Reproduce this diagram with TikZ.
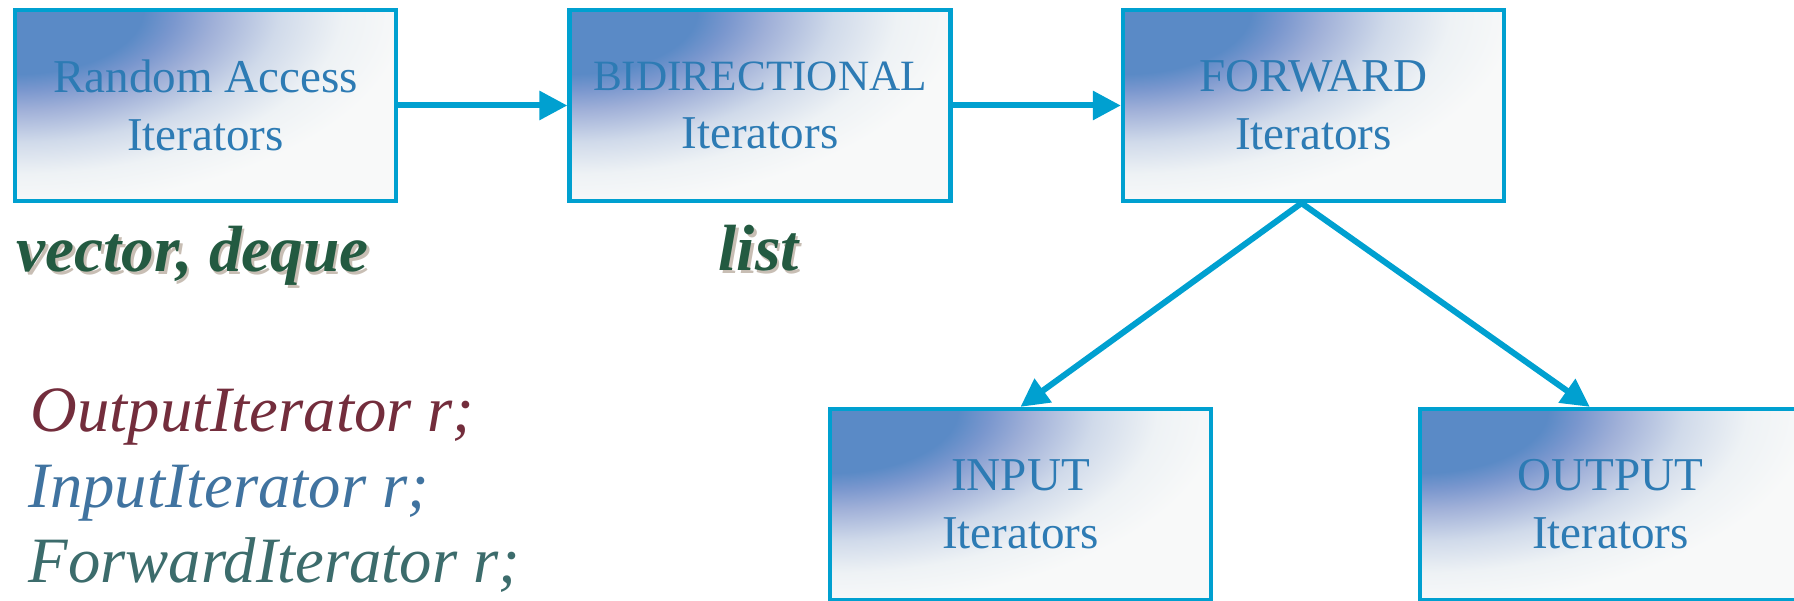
\documentclass[tikz,border=0pt]{standalone}
\usepackage{fontspec}
\setmainfont{Liberation Serif}
\usetikzlibrary{arrows.meta, % For the triangle tips
                positioning,
               }

\definecolor{boxcyan}{RGB}{0,160,208}
\definecolor{boxtext}{RGB}{45,123,180}
\definecolor{glowblue}{RGB}{90,138,198}
\definecolor{glowmid}{RGB}{122,151,206}
\definecolor{glowlav}{RGB}{160,176,216}
\definecolor{glowlight}{RGB}{208,218,234}
\definecolor{glowpale}{RGB}{238,242,245}
\definecolor{glowwhite}{RGB}{248,249,249}
\definecolor{kindgreen}{RGB}{35,90,65}
\definecolor{shadowtan}{RGB}{200,190,180}
\definecolor{outred}{RGB}{115,45,60}
\definecolor{inblue}{RGB}{64,115,160}
\definecolor{fwdteal}{RGB}{60,108,108}

% the inner 25bp of a shading are stretched onto the path
\pgfdeclareradialshading{boxglow}{\pgfpoint{0bp}{0bp}}{%
  color(0bp)=(glowblue); color(8bp)=(glowblue); color(10bp)=(glowmid);
  color(12.5bp)=(glowlav); color(16.5bp)=(glowlight); color(20.5bp)=(glowpale);
  color(24.5bp)=(glowwhite); color(50bp)=(glowwhite)}

\newcommand\boxfont{\fontsize{13.4pt}{16.5pt}\selectfont}
\newcommand\kindfont{\fontsize{18.6pt}{20pt}\selectfont\bfseries\itshape}
\newcommand\declfont{\fontsize{18.4pt}{21pt}\selectfont\itshape}
\newcommand\shadowed[1]{\rlap{\kern0.25mm\raisebox{-0.25mm}{\textcolor{shadowtan}{#1}}}#1}

\tikzstyle{iterbox} = [rectangle, draw=boxcyan, line width=0.43mm, fill=glowwhite,
                       minimum width=38.1mm, minimum height=19.1mm, inner sep=0pt,
                       align=center, text=boxtext, font=\boxfont,
                       path picture={\shade[shading=boxglow]
                         (path picture bounding box.north west)
                         ellipse [x radius=40mm, y radius=20mm];}]
\tikzstyle{edge} = [-{Triangle[length=2.8mm, width=2.8mm]}, color=boxcyan, line width=0.6mm]
\tikzstyle{kind} = [anchor=base west, inner sep=0pt, text=kindgreen, font=\kindfont]
\tikzstyle{decl} = [anchor=base west, inner sep=0pt, font=\declfont]

\begin{document}
\begin{tikzpicture}[x=0.1mm, y=-0.1mm]
  \useasboundingbox (0,0) rectangle (1794,601);
  \clip (0,0) rectangle (1794,601);

  \node (ra) [iterbox] at (205.5, 105.5) {Random Access\\Iterators};
  \node (bi) [iterbox] at (760, 105.5) {{\fontsize{12.3pt}{16.5pt}\selectfont BIDIRECTIONAL}\\Iterators};
  \node (fw) [iterbox] at (1313.5, 105.5) {FORWARD\\Iterators};
  \node (in) [iterbox] at (1020.5, 504.5) {INPUT\\Iterators};
  \node (out) [iterbox] at (1610.5, 504.5) {OUTPUT\\Iterators};

  \path [edge] (ra) edge (bi);
  \path [edge] (bi) edge (fw);
  \path [edge] (fw.263) edge (in.north);
  \path [edge] (fw.263) edge (out.102);

  \node (vd) [kind] at (16, 272) {\shadowed{vector, deque}};
  \node (li) [kind] at (718, 271) {\shadowed{list}};

  \node (od) [decl, text=outred] at (30, 432) {OutputIterator r;};
  \node (id) [decl, text=inblue] at (28, 508) {InputIterator r;};
  \node (fd) [decl, text=fwdteal] at (28, 583) {ForwardIterator r;};
\end{tikzpicture}
\end{document}
